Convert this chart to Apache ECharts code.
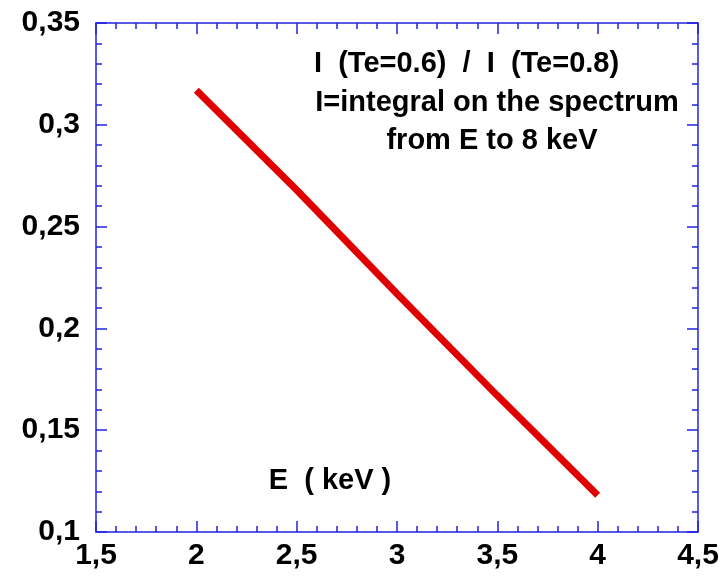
<!DOCTYPE html>
<html>
<head>
<meta charset="utf-8">
<script src="https://cdn.jsdelivr.net/npm/echarts@6/dist/echarts.min.js"></script>
<style>
  html, body { margin: 0; padding: 0; background: #fff; }
  #chart { width: 726px; height: 581px; }
</style>
</head>
<body>
<div id="chart"></div>
<script>
// Energy thresholds (keV) and the ratio of integrated spectra
const energies = [2, 2.5, 3, 3.5, 4];
const ratio = [0.317, 0.268, 0.217, 0.167, 0.118];

// Axis ranges and steps
const xRange = [1.5, 4.5];
const xStep = 0.5;
const yRange = [0.1, 0.35];
const yStep = 0.05;

// Annotation lines
const noteLines = ['I  (Te=0.6)  /  I  (Te=0.8)', 'I=integral on the spectrum', 'from E to 8 keV'];
const axisTitle = 'E  ( keV )';

const AXIS_BLUE = '#2323e0';
const FONT = '"Liberation Sans", Arial, Helvetica, sans-serif';

function commaNum(v) {
  return String(+v.toFixed(2)).replace('.', ',');
}

function axisCommon(showLabel, minorSplit) {
  return {
    type: 'value',
    axisLine: { show: true, onZero: false, lineStyle: { color: AXIS_BLUE, width: 1.5 } },
    axisTick: { show: true, inside: true, length: 11, lineStyle: { color: AXIS_BLUE, width: 1.5 } },
    minorTick: { show: true, splitNumber: minorSplit, length: 6, lineStyle: { color: AXIS_BLUE, width: 1.5 } },
    splitLine: { show: false },
    minorSplitLine: { show: false },
    axisLabel: {
      show: showLabel,
      color: '#000',
      fontFamily: FONT,
      fontWeight: 'bold',
      fontSize: 30,
      formatter: commaNum
    }
  };
}

const chart = echarts.init(document.getElementById('chart'), null, { renderer: 'canvas' });

const xBottom = Object.assign(axisCommon(true, 5), { position: 'bottom', min: xRange[0], max: xRange[1], interval: xStep });
xBottom.axisLabel.margin = 9;
const xTop = Object.assign(axisCommon(false, 5), { position: 'top', min: xRange[0], max: xRange[1], interval: xStep });
const yLeft = Object.assign(axisCommon(true, 5), { position: 'left', min: yRange[0], max: yRange[1], interval: yStep });
yLeft.axisLabel.margin = 16;
const yRight = Object.assign(axisCommon(false, 5), { position: 'right', min: yRange[0], max: yRange[1], interval: yStep });

function noteStyle(text, align) {
  return {
    text: text,
    fill: '#000',
    fontFamily: FONT,
    fontWeight: 'bold',
    fontSize: 29,
    textAlign: align,
    textVerticalAlign: 'middle'
  };
}

chart.setOption({
  animation: false,
  grid: { left: 96, right: 28, top: 23, bottom: 49, containLabel: false },
  xAxis: [xBottom, xTop],
  yAxis: [yLeft, yRight],
  series: [{
    type: 'line',
    xAxisIndex: 0,
    yAxisIndex: 0,
    data: energies.map((e, i) => [e, ratio[i]]),
    symbol: 'none',
    lineStyle: { color: '#e00000', width: 7, cap: 'butt' }
  }],
  graphic: [
    { type: 'text', x: 314, y: 64, style: noteStyle(noteLines[0], 'left') },
    { type: 'text', x: 497, y: 103, style: noteStyle(noteLines[1], 'center') },
    { type: 'text', x: 492, y: 141, style: noteStyle(noteLines[2], 'center') },
    { type: 'text', x: 330, y: 481, style: noteStyle(axisTitle, 'center') }
  ]
});
</script>
</body>
</html>
